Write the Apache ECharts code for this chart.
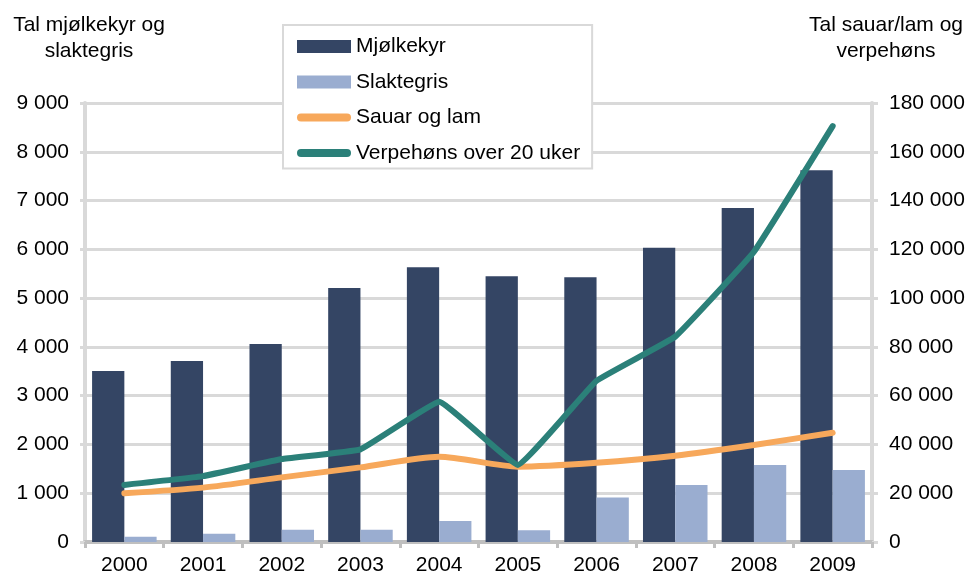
<!DOCTYPE html>
<html>
<head>
<meta charset="utf-8">
<script src="https://cdn.jsdelivr.net/npm/echarts@6/dist/echarts.min.js"></script>
<style>
  html, body { margin: 0; padding: 0; background: #fff; }
  #chart { width: 968px; height: 577px; }
</style>
</head>
<body>
<div id="chart"></div>
<script>
// data
var years = ['2000', '2001', '2002', '2003', '2004', '2005', '2006', '2007', '2008', '2009'];
var mjolkekyr = [3505, 3710, 4060, 5205, 5635, 5450, 5430, 6030, 6845, 7620];
var slaktegris = [110, 170, 250, 250, 430, 240, 910, 1170, 1580, 1475];
var sauarOgLam = [20000, 22300, 26500, 30600, 35000, 30900, 32500, 35400, 39800, 44800];
var verpehons = [23400, 27000, 34000, 38000, 57500, 31600, 66100, 84200, 119000, 170500];

var fmt = function (v) {
    return String(v).replace(/\B(?=(\d{3})+(?!\d))/g, ' ');
};

var gridGrey = '#d9d9d9';
var fontFam = '"Liberation Sans", Arial, sans-serif';
// rounded line swatch for the legend
var lineIcon = 'path://M4,0 L50,0 A4,4 0 0 1 50,8 L4,8 A4,4 0 0 1 4,0 Z';

var myChart = echarts.init(document.getElementById('chart'));
var option = {
    animation: false,
    textStyle: { fontFamily: fontFam },
    grid: { left: 85, right: 96, top: 103, bottom: 35 },
    legend: {
        orient: 'vertical',
        left: 283,
        top: 25,
        padding: [11, 12, 5, 14],
        itemWidth: 54,
        itemHeight: 13,
        itemGap: 14.5,
        backgroundColor: '#fff',
        borderColor: gridGrey,
        borderWidth: 2,
        textStyle: { fontSize: 21, lineHeight: 21, color: '#000' },
        data: [
            { name: 'Mjølkekyr', icon: 'rect' },
            { name: 'Slaktegris', icon: 'rect' },
            { name: 'Sauar og lam', icon: lineIcon },
            { name: 'Verpehøns over 20 uker', icon: lineIcon }
        ]
    },
    graphic: [
        {
            type: 'text', x: 89, y: 12,
            style: { text: 'Tal mjølkekyr og\nslaktegris', font: '21px ' + fontFam, fill: '#000', align: 'center', lineHeight: 26 }
        },
        {
            type: 'text', x: 886, y: 12,
            style: { text: 'Tal sauar/lam og\nverpehøns', font: '21px ' + fontFam, fill: '#000', align: 'center', lineHeight: 26 }
        }
    ],
    xAxis: {
        type: 'category',
        data: years,
        axisLine: { lineStyle: { color: '#bfbfbf', width: 4 } },
        axisTick: { show: true, length: 6, lineStyle: { color: '#bfbfbf', width: 3 } },
        axisLabel: { fontSize: 21, color: '#000', margin: 13 }
    },
    yAxis: [
        {
            type: 'value', min: 0, max: 9000, interval: 1000,
            axisLine: { show: true, lineStyle: { color: gridGrey, width: 4 } },
            axisTick: { show: true, length: 5, lineStyle: { color: gridGrey, width: 3 } },
            splitLine: { lineStyle: { color: gridGrey, width: 3 } },
            axisLabel: { fontSize: 21, color: '#000', margin: 16, formatter: fmt }
        },
        {
            type: 'value', min: 0, max: 180000, interval: 20000,
            axisLine: { show: true, lineStyle: { color: gridGrey, width: 4 } },
            axisTick: { show: true, length: 6, lineStyle: { color: gridGrey, width: 3 } },
            splitLine: { show: false },
            axisLabel: { fontSize: 21, color: '#000', margin: 17, formatter: fmt }
        }
    ],
    series: [
        {
            name: 'Mjølkekyr', type: 'bar', data: mjolkekyr,
            barGap: '0%', barCategoryGap: '18%',
            itemStyle: { color: '#344564' }
        },
        {
            name: 'Slaktegris', type: 'bar', data: slaktegris,
            itemStyle: { color: '#9aadd0' }
        },
        {
            name: 'Sauar og lam', type: 'line', yAxisIndex: 1, data: sauarOgLam,
            symbol: 'none', smooth: 0.25,
            lineStyle: { color: '#f7a85b', width: 6, cap: 'round' },
            itemStyle: { color: '#f7a85b' }
        },
        {
            name: 'Verpehøns over 20 uker', type: 'line', yAxisIndex: 1, data: verpehons,
            symbol: 'none', smooth: 0.08,
            lineStyle: { color: '#2b8079', width: 6, cap: 'round' },
            itemStyle: { color: '#2b8079' }
        }
    ]
};
myChart.setOption(option);
</script>
</body>
</html>
